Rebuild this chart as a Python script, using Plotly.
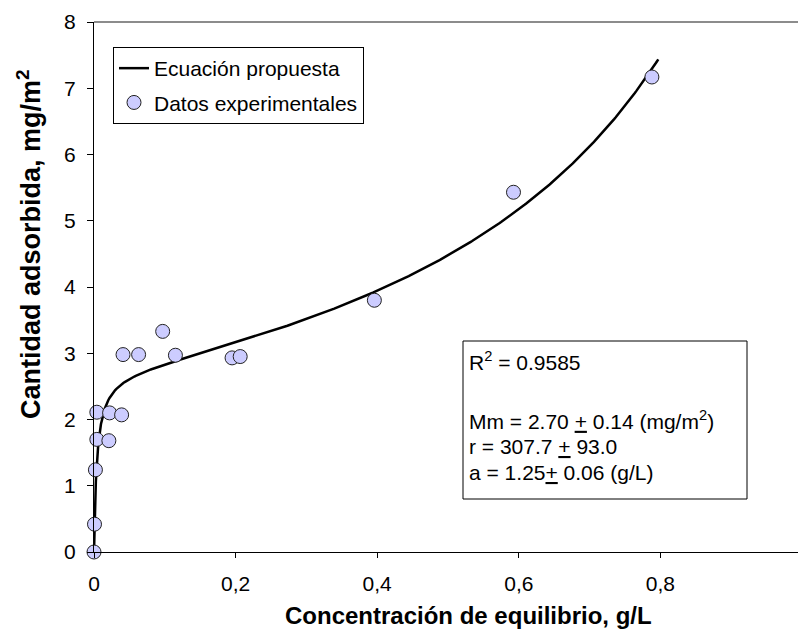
import numpy as np
import plotly.graph_objects as go

# Experimental adsorption data
conc_exp = [0.0, 0.0007, 0.002, 0.004, 0.004, 0.021, 0.022, 0.039, 0.041, 0.063,
            0.097, 0.115, 0.195, 0.2065, 0.396, 0.5925, 0.788]
ads_exp = [0.0, 0.42, 1.24, 1.70, 2.11, 1.68, 2.10, 2.07, 2.98, 2.98,
           3.33, 2.97, 2.93, 2.95, 3.80, 5.43, 7.17]

# Fitted parameters of the proposed equation
Mm = 2.70
r = 307.7
a = 1.25
conc_max = 0.797

x_ticks = [0, 0.2, 0.4, 0.6, 0.8]
x_ticklabels = ["0", "0,2", "0,4", "0,6", "0,8"]
y_ticks = [0, 1, 2, 3, 4, 5, 6, 7, 8]

# Proposed multilayer (BET-type) equation evaluated with the fitted parameters
c_fit = np.concatenate([np.linspace(0, 0.02, 200), np.linspace(0.02, conc_max, 400)[1:]])
z = c_fit / a
q_fit = Mm * r * z / ((1 - z) * (1 + (r - 1) * z))

W, H = 798, 634
L, R, T, B = 94, 0, 22, 82
pw, ph = W - L - R, H - T - B


def px(xp):
    return (xp - L) / pw


def py(yp):
    return (H - B - yp) / ph


FONT = "Liberation Sans, Arial, sans-serif"

fig = go.Figure()
fig.add_trace(go.Scatter(
    x=c_fit, y=q_fit, mode="lines", name="Ecuación propuesta",
    line=dict(color="black", width=2.5), legendgroup="g1", cliponaxis=False,
))
fig.add_trace(go.Scatter(
    x=conc_exp, y=ads_exp, mode="markers", name="Datos experimentales",
    marker=dict(size=14, color="#ccccff", line=dict(color="#222222", width=1)),
    legendgroup="g2", cliponaxis=False,
))

x_max = pw / 708.0

fig.update_layout(
    width=W, height=H,
    margin=dict(l=L, r=R, t=T, b=B),
    paper_bgcolor="white", plot_bgcolor="white",
    font=dict(family=FONT, size=21, color="black"),
    separators=",.",
    showlegend=True,
    legend=dict(
        x=px(113), y=py(47), xanchor="left", yanchor="top",
        bgcolor="white", bordercolor="black", borderwidth=1,
        font=dict(family=FONT, size=21, color="black"),
        traceorder="grouped", tracegroupgap=4,
        itemwidth=30,
    ),
    xaxis=dict(
        range=[0, x_max], tickvals=x_ticks, ticktext=x_ticklabels,
        showgrid=False, zeroline=False, showline=True, linecolor="black", linewidth=1,
        ticks="outside", ticklen=5, tickcolor="black", tickwidth=1,
        ticklabelstandoff=8,
        tickfont=dict(family=FONT, size=21, color="black"),
    ),
    yaxis=dict(
        range=[0, 8], tickvals=y_ticks,
        showgrid=False, zeroline=False, showline=True, linecolor="black", linewidth=1,
        ticks="outside", ticklen=6, tickcolor="black", tickwidth=1,
        ticklabelstandoff=7,
        tickfont=dict(family=FONT, size=21, color="black"),
    ),
    shapes=[
        # top border of the plot area
        dict(type="line", xref="paper", yref="paper", x0=0, x1=1, y0=1, y1=1,
             line=dict(color="#666666", width=1.5)),
        # box around the fit statistics
        dict(type="rect", xref="paper", yref="paper",
             x0=px(463), x1=px(747), y0=py(499), y1=py(341),
             line=dict(color="black", width=1), fillcolor="white", layer="above"),
    ],
)

stats_lines = [
    ("R<sup>2</sup> = 0.9585", 361),
    ("Mm = 2.70 <u>+</u> 0.14 (mg/m<sup>2</sup>)", 420),
    ("r = 307.7 <u>+</u> 93.0", 446),
    ("a = 1.25<u>+</u> 0.06 (g/L)", 472),
]
annotations = []
for txt, yp in stats_lines:
    annotations.append(dict(
        text=txt, xref="paper", yref="paper", x=px(467), y=py(yp),
        xanchor="left", yanchor="middle", showarrow=False,
        font=dict(family=FONT, size=21, color="black"),
    ))

annotations.append(dict(
    text="<b>Concentración de equilibrio, g/L</b>", xref="paper", yref="paper",
    x=px(468), y=py(615), xanchor="center", yanchor="middle", showarrow=False,
    font=dict(family=FONT, size=24, color="black"),
))
annotations.append(dict(
    text="<b>Cantidad adsorbida, mg/m<sup>2</sup></b>", xref="paper", yref="paper",
    x=px(29), y=py(244), xanchor="center", yanchor="middle", showarrow=False,
    textangle=-90, font=dict(family=FONT, size=27, color="black"),
))
fig.update_layout(annotations=annotations)

fig.write_html("out.html")
